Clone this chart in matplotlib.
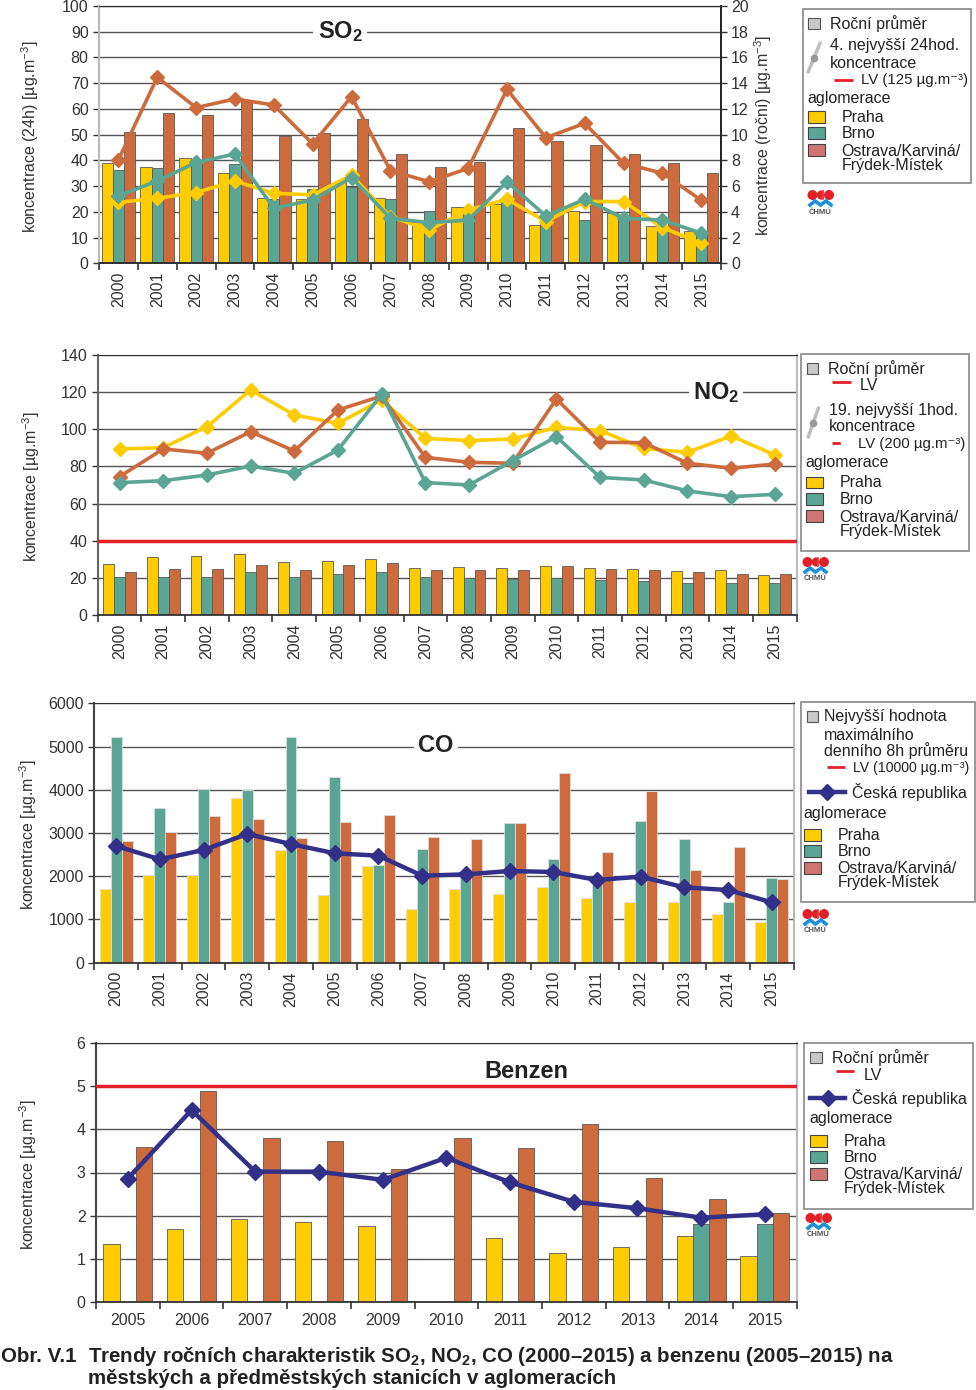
import numpy as np
import matplotlib.pyplot as plt
from matplotlib.patches import Rectangle, Wedge, Circle

plt.rcParams['font.family'] = ['Liberation Sans', 'DejaVu Sans']
plt.rcParams['mathtext.fontset'] = 'custom'
plt.rcParams['mathtext.rm'] = 'Liberation Sans'
plt.rcParams['mathtext.bf'] = 'Liberation Sans:bold'
plt.rcParams['mathtext.it'] = 'Liberation Sans:italic'

# ---------------- data ----------------
years_16 = ['2000', '2001', '2002', '2003', '2004', '2005', '2006', '2007',
            '2008', '2009', '2010', '2011', '2012', '2013', '2014', '2015']
years_bz = ['2005', '2006', '2007', '2008', '2009', '2010', '2011', '2012',
            '2013', '2014', '2015']

# SO2 - annual mean (right axis)
so2_year_praha = [7.8, 7.5, 8.2, 7.0, 5.1, 5.0, 6.4, 5.1, 3.2, 4.35, 4.6, 3.0, 4.1, 3.9, 2.9, 2.5]
so2_year_brno = [7.25, 7.4, 7.9, 7.7, 5.0, 5.8, 5.9, 5.0, 4.1, 3.9, 5.0, 3.6, 3.4, 3.5, 2.9, 2.3]
so2_year_ostrava = [10.2, 11.7, 11.5, 12.7, 9.9, 10.1, 11.2, 8.5, 7.5, 7.85, 10.5, 9.5, 9.2, 8.5, 7.8, 7.0]
# SO2 - 4th highest 24h concentration (left axis)
so2_24h_praha = [23.7, 25.3, 27.5, 32.0, 27.2, 26.6, 34.3, 18.1, 13.0, 20.7, 24.9, 16.2, 24.0, 24.0, 13.9, 7.8]
so2_24h_brno = [26.2, 32.0, 39.2, 42.5, 21.4, 24.6, 33.3, 17.5, 15.8, 16.8, 31.7, 18.4, 24.9, 17.5, 16.8, 11.7]
so2_24h_ostrava = [40.2, 72.3, 60.5, 63.9, 61.5, 46.4, 64.8, 36.0, 31.7, 36.9, 67.6, 48.8, 54.4, 38.9, 35.0, 24.5]

# NO2 - annual mean
no2_year_praha = [27.3, 31.2, 31.6, 32.7, 28.4, 29.3, 30.2, 25.5, 25.8, 25.1, 26.6, 25.5, 24.6, 23.7, 24.2, 21.5]
no2_year_brno = [20.3, 20.6, 20.3, 23.0, 20.3, 21.9, 23.0, 20.6, 20.1, 19.6, 20.1, 18.8, 18.1, 17.4, 17.1, 17.1]
no2_year_ostrava = [23.0, 25.0, 24.6, 26.7, 24.0, 26.7, 27.8, 24.4, 24.0, 24.0, 26.6, 25.0, 24.4, 23.3, 22.1, 21.9]
# NO2 - 19th highest 1h concentration
no2_1h_praha = [89.4, 90.1, 101.4, 121.2, 107.7, 103.2, 115.8, 95.1, 93.9, 94.8, 101.0, 99.3, 89.7, 87.6, 96.4, 86.2]
no2_1h_brno = [71.3, 72.3, 75.4, 80.2, 76.3, 88.9, 118.8, 71.3, 70.0, 83.1, 96.0, 74.1, 72.7, 66.8, 63.7, 65.0]
no2_1h_ostrava = [74.5, 89.4, 87.1, 98.7, 88.3, 110.4, 117.9, 84.9, 82.2, 81.7, 116.3, 93.0, 92.8, 81.7, 79.0, 81.3]
no2_lv = 40

# CO - highest daily max 8h mean
co_praha = [1697, 2021, 2028, 3810, 2607, 1566, 2237, 1249, 1712, 1589, 1743, 1504, 1411, 1411, 1126, 933]
co_brno = [5229, 3578, 4026, 3995, 5229, 4303, 2260, 2630, 2028, 3231, 2391, 1913, 3278, 2853, 1411, 1967]
co_ostrava = [2815, 3031, 3401, 3324, 2884, 3247, 3416, 2907, 2869, 3231, 4380, 2553, 3972, 2136, 2676, 1936]
co_cr = [2699, 2391, 2607, 2977, 2745, 2530, 2476, 2013, 2044, 2121, 2098, 1913, 1990, 1743, 1681, 1396]

# Benzene - annual mean
bz_praha = [1.35, 1.68, 1.93, 1.84, 1.76, np.nan, 1.49, 1.14, 1.26, 1.53, 1.06]
bz_brno = [np.nan] * 9 + [1.80, 1.81]
bz_ostrava = [3.60, 4.89, 3.79, 3.73, 3.07, 3.79, 3.58, 4.13, 2.87, 2.38, 2.07]
bz_cr = [2.86, 4.45, 3.02, 3.02, 2.83, 3.34, 2.77, 2.32, 2.17, 1.95, 2.03]
bz_lv = 5

# ---------------- style ----------------
C_PRAHA = '#FFCC00'
C_BRNO = '#5AA593'
C_OSTRAVA = '#CD6B3C'
C_OSTRAVA_LEG = '#D07474'
C_CR = '#33308A'
C_LV = '#E32027'
C_GRID = '#555555'
EDGE = '#5a5a5a'
FS = 11.5

W, H = 976, 1390
fig = plt.figure(figsize=(W / 100, H / 100), dpi=100)


def rect(x0, y0, x1, y1):
    return [x0 / W, 1 - y1 / H, (x1 - x0) / W, (y1 - y0) / H]


def draw_bars(ax, series, colors, width, edge=EDGE):
    offs = [-1, 0, 1]
    for vals, c, o in zip(series, colors, offs):
        vals = np.asarray(vals, dtype=float)
        x = np.arange(len(vals))
        ok = ~np.isnan(vals)
        ax.bar(x[ok] + o * width, vals[ok], width, color=c, edgecolor=edge,
               linewidth=0.6, zorder=2)


def style_x(ax, labels, rot, pad):
    n = len(labels)
    ax.set_xlim(-0.5, n - 0.5)
    ax.set_xticks(np.arange(n))
    ax.set_xticklabels(labels, rotation=rot, fontsize=FS, color='#333333')
    ax.set_xticks(np.arange(n + 1) - 0.5, minor=True)
    ax.tick_params(axis='x', which='major', length=0, pad=pad)
    ax.tick_params(axis='x', which='minor', length=5, width=1.2, color='#333333')


def style_y(ax, lo, hi, step):
    ax.set_ylim(lo, hi)
    ax.set_yticks(np.arange(lo, hi + step / 2, step))
    ax.tick_params(axis='y', labelsize=FS, labelcolor='#333333', length=4,
                   color='#333333', width=1)


def frame(ax, left='#999999', right='#bbbbbb'):
    ax.spines['bottom'].set_color('#333333')
    ax.spines['bottom'].set_linewidth(1.3)
    ax.spines['top'].set_color('#333333')
    ax.spines['left'].set_color(left)
    ax.spines['left'].set_linewidth(1.5)
    ax.spines['right'].set_color(right)
    ax.spines['right'].set_linewidth(1.5)


def line(ax, vals, color, lw=2.6, ms=7):
    ax.plot(np.arange(len(vals)), vals, color=color, lw=lw, marker='D', ms=ms,
            mec=color, mfc=color, zorder=4, solid_joinstyle='round')


# ---------------- SO2 ----------------
ax = fig.add_axes(rect(99, 6, 720.7, 263.3))
draw_bars(ax, [so2_year_praha, so2_year_brno, so2_year_ostrava],
          [C_PRAHA, C_BRNO, C_OSTRAVA], 0.29)
style_x(ax, years_16, 90, 6)
style_y(ax, 0, 20, 2)
ax.yaxis.tick_right()
ax.grid(axis='y', color=C_GRID, lw=1)
ax.set_axisbelow(True)
ax2 = ax.twinx()
ax2.yaxis.tick_left()
style_y(ax2, 0, 100, 10)
ax.tick_params(axis='y', which='both', right=True, left=False, labelright=True, labelleft=False)
ax2.tick_params(axis='y', which='both', left=True, right=False, labelleft=True, labelright=False)
line(ax2, so2_24h_praha, C_PRAHA)
line(ax2, so2_24h_brno, C_BRNO)
line(ax2, so2_24h_ostrava, C_OSTRAVA)
for a in (ax, ax2):
    frame(a, left='#bbbbbb', right='#222222')
    a.spines['right'].set_linewidth(1.2)

# ---------------- NO2 ----------------
ax = fig.add_axes(rect(97.7, 355, 796.7, 615))
draw_bars(ax, [no2_year_praha, no2_year_brno, no2_year_ostrava],
          [C_PRAHA, C_BRNO, C_OSTRAVA], 0.25)
ax.axhline(no2_lv, color=C_LV, lw=2.5, zorder=3)
line(ax, no2_1h_praha, C_PRAHA)
line(ax, no2_1h_ostrava, C_OSTRAVA)
line(ax, no2_1h_brno, C_BRNO)
style_x(ax, years_16, 90, 6)
style_y(ax, 0, 140, 20)
ax.grid(axis='y', color=C_GRID, lw=1)
ax.set_axisbelow(True)
frame(ax, left='#666666')

# ---------------- CO ----------------
ax = fig.add_axes(rect(94.3, 703.3, 793.7, 962.7))
draw_bars(ax, [co_praha, co_brno, co_ostrava],
          [C_PRAHA, C_BRNO, C_OSTRAVA], 0.25, edge='#dddddd')
line(ax, co_cr, C_CR, lw=3.2, ms=8)
style_x(ax, years_16, 90, 6)
style_y(ax, 0, 6000, 1000)
ax.grid(axis='y', color=C_GRID, lw=1)
ax.set_axisbelow(True)
frame(ax, left='#444444')

# ---------------- Benzene ----------------
ax = fig.add_axes(rect(96, 1043.3, 796.7, 1301.7))
draw_bars(ax, [bz_praha, bz_brno, bz_ostrava],
          [C_PRAHA, C_BRNO, C_OSTRAVA], 0.255)
ax.axhline(bz_lv, color=C_LV, lw=2.5, zorder=3)
line(ax, bz_cr, C_CR, lw=3.2, ms=8)
style_x(ax, years_bz, 0, 8)
style_y(ax, 0, 6, 1)
ax.grid(axis='y', color=C_GRID, lw=1)
ax.set_axisbelow(True)
frame(ax, left='#444444')

# ---------------- overlay: titles, labels, legends ----------------
ov = fig.add_axes([0, 0, 1, 1])
ov.set_xlim(0, W)
ov.set_ylim(H, 0)
ov.axis('off')

WB = dict(facecolor='white', edgecolor='none', pad=3)
ov.text(340, 32, r'SO$_\mathbf{2}$', fontsize=17, fontweight='bold', ha='center',
        va='center', color='#222222', bbox=WB)
ov.text(716, 393, r'NO$_\mathbf{2}$', fontsize=17, fontweight='bold', ha='center',
        va='center', color='#222222', bbox=WB)
ov.text(436, 746, 'CO', fontsize=17, fontweight='bold', ha='center',
        va='center', color='#222222', bbox=WB)
ov.text(526, 1072, 'Benzen', fontsize=17, fontweight='bold', ha='center',
        va='center', color='#222222')

YL = dict(fontsize=11.5, rotation=90, ha='center', va='center', color='#333333')
ov.text(30, 137, r'koncentrace (24h) [µg.m$^{-3}$]', **YL)
ov.text(763, 135, r'koncentrace (roční) [µg.m$^{-3}$]', **YL)
ov.text(31, 487, r'koncentrace [µg.m$^{-3}$]', **YL)
ov.text(28, 835, r'koncentrace [µg.m$^{-3}$]', **YL)
ov.text(28, 1175, r'koncentrace [µg.m$^{-3}$]', **YL)


def t(x, y, s, fs=FS):
    ov.text(x, y, s, fontsize=fs, ha='left', va='center', color='#222222')


def box(x0, y0, x1, y1, fc, ec='#444444', lw=0.8):
    ov.add_patch(Rectangle((x0, y0), x1 - x0, y1 - y0, facecolor=fc,
                           edgecolor=ec, lw=lw))


def hline(x0, x1, y, color, ls='-', lw=2):
    ov.plot([x0, x1], [y, y], color=color, ls=ls, lw=lw, solid_capstyle='butt')


def slant(x0, y0, x1, y1):
    ov.plot([x0, x1], [y0, y1], color='#bdbdbd', lw=2.5)
    ov.plot([(x0 + x1) / 2], [(y0 + y1) / 2], marker='o', ms=4.5, color='#999999')


def cr_line(x0, x1, y):
    ov.plot([x0, x1], [y, y], color=C_CR, lw=3.2)
    ov.plot([(x0 + x1) / 2], [y], marker='D', ms=8, color=C_CR)


def legend_frame(x0, y0, x1, y1):
    ov.add_patch(Rectangle((x0, y0), x1 - x0, y1 - y0, facecolor='white',
                           edgecolor='#888888', lw=1.2))


def aglomerace(xs, xt, ys):
    box(xs, ys[0] - 6, xs + 17, ys[0] + 5.5, C_PRAHA)
    t(xt, ys[0], 'Praha')
    box(xs, ys[1] - 6, xs + 17, ys[1] + 5.5, C_BRNO)
    t(xt, ys[1], 'Brno')
    box(xs, ys[2] - 6, xs + 17, ys[2] + 6, C_OSTRAVA_LEG)
    t(xt, ys[2] + 1, 'Ostrava/Karviná/')
    t(xt, ys[2] + 15.5, 'Frýdek-Místek')


def logo(x, y):
    ov.add_patch(Circle((x + 4.5, y + 5), 4.3, color='#E32027'))
    ov.add_patch(Circle((x + 21, y + 5), 4.3, color='#E32027'))
    ov.add_patch(Wedge((x + 13.5, y + 5), 4.0, 90, 270, color='#E32027'))
    ov.plot([x + 14.5, x + 14.5], [y + 1, y + 9], color='#E32027', lw=1.2)
    ov.plot([x + 2, x + 7, x + 12.5, x + 18, x + 23], [y + 15, y + 11, y + 15, y + 11, y + 15],
            color='#1E90D6', lw=2.6, solid_joinstyle='miter')
    ov.text(x + 12.5, y + 22, 'ČHMÚ', fontsize=5.5, fontweight='bold', ha='center',
            va='center', color='#555555')


# SO2 legend
legend_frame(802.7, 9.3, 970.7, 183.3)
box(808, 18, 820, 29, '#c8c8c8', '#555555')
t(830, 23.3, 'Roční průměr')
slant(808.3, 71.7, 820, 43.3)
t(830, 45.7, '4. nejvyšší 24hod.')
t(830, 63.3, 'koncentrace')
hline(834, 852.7, 80, C_LV)
t(861, 80, 'LV (125 µg.m⁻³)', fs=10.8)
t(807.7, 99, 'aglomerace')
aglomerace(808.3, 841.7, [117, 133, 150])
logo(808, 190)

# NO2 legend
legend_frame(801, 354, 969, 550.7)
box(806.7, 363.3, 818.3, 374, '#c8c8c8', '#555555')
t(828.3, 368.3, 'Roční průměr')
hline(832.3, 850.7, 382.3, C_LV)
t(860, 385.7, 'LV')
slant(808.3, 436.7, 818.3, 408.3)
t(829, 410, '19. nejvyšší 1hod.')
t(829, 426.7, 'koncentrace')
hline(832, 848, 443.3, C_LV, ls=(0, (3, 3)))
t(858, 444, 'LV (200 µg.m⁻³)', fs=10.8)
t(805.7, 462.7, 'aglomerace')
aglomerace(806, 839.3, [482.5, 499, 516])
logo(803, 557)

# CO legend
legend_frame(801, 701.7, 975.3, 902.3)
box(806.7, 710.7, 818.3, 721.7, '#c8c8c8', '#555555')
t(824, 716.7, 'Nejvyšší hodnota')
t(824, 735, 'maximálního')
t(824, 750.7, 'denního 8h průměru')
hline(826.7, 845, 767.3, C_LV)
t(853, 768, 'LV (10000 µg.m⁻³)', fs=10.2)
cr_line(809.3, 845, 792.3)
t(851.7, 792.3, 'Česká republika')
t(803.3, 813.3, 'aglomerace')
aglomerace(804.3, 837.7, [835, 851, 867.5])
logo(803, 909)

# Benzene legend
legend_frame(804.3, 1043.3, 972.7, 1209.3)
box(810, 1052.3, 821.7, 1063.3, '#c8c8c8', '#555555')
t(832.3, 1057.3, 'Roční průměr')
hline(836, 854.3, 1071, C_LV)
t(864, 1075, 'LV')
cr_line(810, 845, 1098.3)
t(851.7, 1098.3, 'Česká republika')
t(809.3, 1118.3, 'aglomerace')
aglomerace(810, 843.3, [1141, 1157, 1173.5])
logo(806, 1213)

# caption
CAP = 14.8
ov.text(1, 1357, 'Obr. V.1', fontsize=CAP, fontweight='bold', ha='left', va='center',
        color='#222222')
ov.text(88, 1357, r'Trendy ročních charakteristik SO$_\mathbf{2}$, NO$_\mathbf{2}$, '
        'CO (2000–2015) a benzenu (2005–2015) na', fontsize=CAP, fontweight='bold',
        ha='left', va='center', color='#222222')
ov.text(88, 1379, 'městských a předměstských stanicích v aglomeracích', fontsize=CAP,
        fontweight='bold', ha='left', va='center', color='#222222')

fig.savefig('out.png', dpi=100)
